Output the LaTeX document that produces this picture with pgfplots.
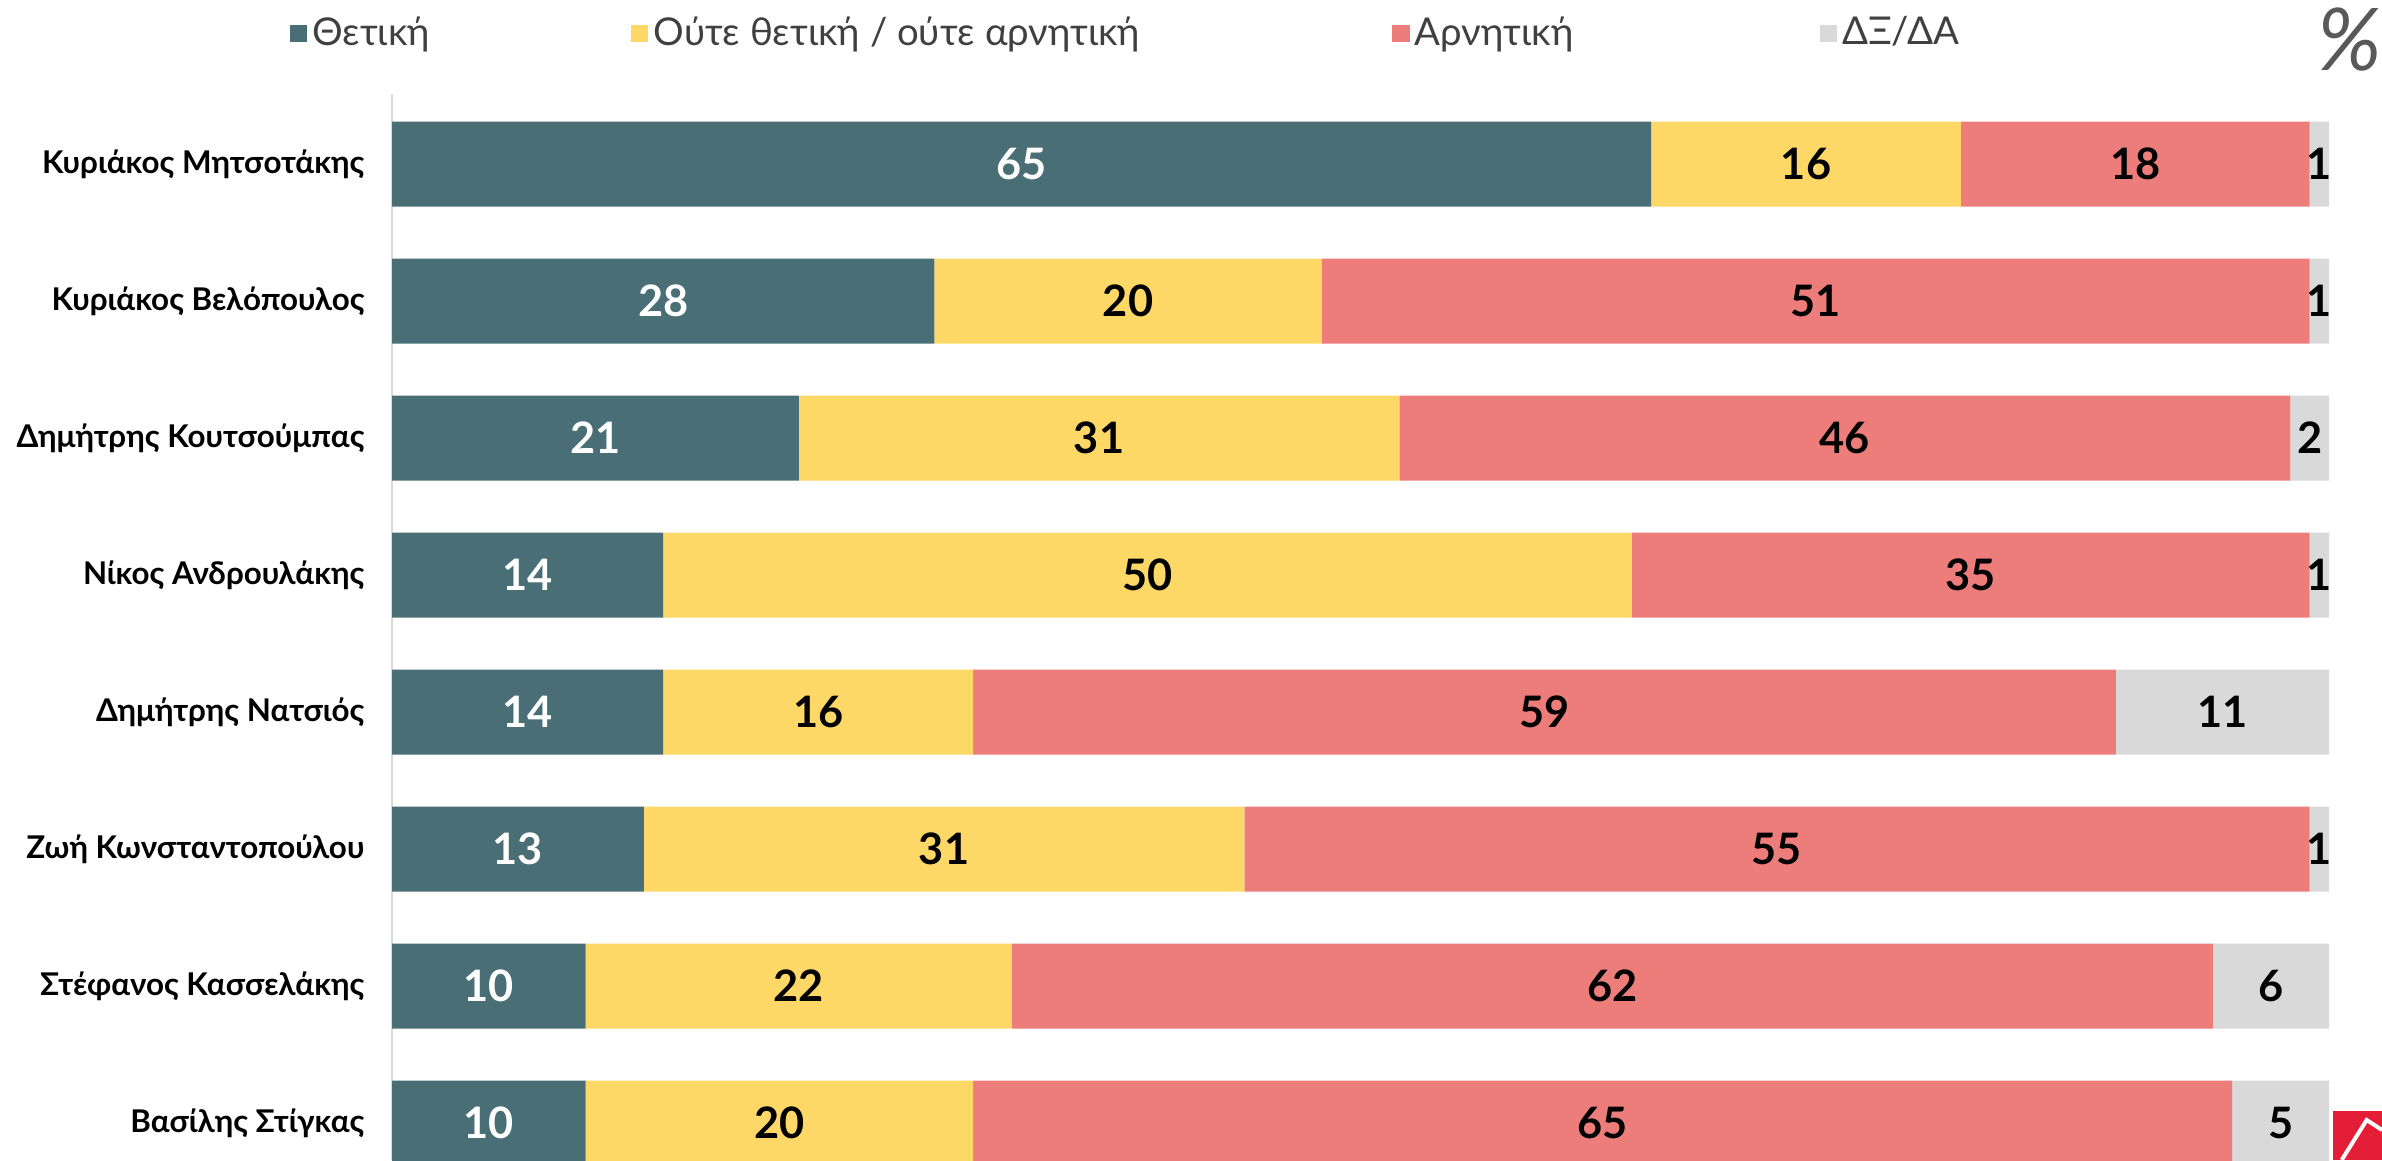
\documentclass[border=0pt]{standalone}
\usepackage{fontspec}
\setmainfont{Lato}
\usepackage{pgfplots}
\usepackage{pgfplotstable}
\pgfplotsset{compat=1.18}
\definecolor{cPos}{HTML}{4A6E75}
\definecolor{cNeu}{HTML}{FED866}
\definecolor{cNeg}{HTML}{ED7D7B}
\definecolor{cDk}{HTML}{D9D9D9}
\definecolor{cTxt}{HTML}{404040}
\definecolor{cPct}{HTML}{595959}
\definecolor{cLogo}{HTML}{E41E36}
\pgfplotstableread{
row pos neu neg dk
1 65 16 18 1
2 28 20 51 1
3 21 31 46 2
4 14 50 35 1
5 14 16 59 11
6 13 31 55 1
7 10 22 62 6
8 10 20 65 5
}\data
\begin{document}
\begin{tikzpicture}
\useasboundingbox (0,0) rectangle (714.6pt,348pt);
\clip (0,0) rectangle (714.6pt,348pt);
\begin{axis}[
  at={(117.6pt,0pt)}, anchor=south west,
  scale only axis, width=581.1pt, height=319.8pt,
  xbar stacked, bar width=25.5pt,
  xmin=0, xmax=100, ymin=0.489, ymax=8.27, y dir=reverse,
  axis x line=none, axis y line*=left,
  y axis line style={draw=cDk, line width=0.6pt},
  ytick={1,...,8},
  yticklabels={Κυριάκος Μητσοτάκης, Κυριάκος Βελόπουλος, Δημήτρης Κουτσούμπας, Νίκος Ανδρουλάκης, Δημήτρης Νατσιός, Ζωή Κωνσταντοπούλου, Στέφανος Κασσελάκης, Βασίλης Στίγκας},
  major tick length=0pt,
  yticklabel style={font=\fontsize{9.4}{11}\selectfont\bfseries, anchor=east, inner sep=0pt, xshift=-8.1pt},
  /pgf/number format/assume math mode=true,
  nodes near coords,
  every node near coord/.append style={font=\fontsize{13}{15}\selectfont\bfseries, anchor=center},
  legend columns=4,
  legend style={draw=none, fill=none, at={(-0.0532,1.057)}, anchor=west, inner sep=0pt, column sep=0pt, font=\fontsize{11.5}{13}\selectfont\color{cTxt}, nodes={inner sep=0pt}},
  legend cell align=left,
]
\addplot[fill=cPos, draw=none, every node near coord/.append style={text=white},
  legend image code/.code={\fill[cPos] (0pt,-2.6pt) rectangle (5.2pt,2.6pt);}]
  table[x=pos, y=row] {\data};
\addlegendentry{\makebox[97.2pt][l]{\hspace{1.6pt}Θετική}}
\addplot[fill=cNeu, draw=none, every node near coord/.append style={text=black},
  legend image code/.code={\fill[cNeu] (0pt,-2.6pt) rectangle (5.2pt,2.6pt);}]
  table[x=neu, y=row] {\data};
\addlegendentry{\makebox[223.2pt][l]{\hspace{1.6pt}Ούτε θετική / ούτε αρνητική}}
\addplot[fill=cNeg, draw=none, every node near coord/.append style={text=black},
  legend image code/.code={\fill[cNeg] (0pt,-2.6pt) rectangle (5.2pt,2.6pt);}]
  table[x=neg, y=row] {\data};
\addlegendentry{\makebox[123pt][l]{\hspace{1.6pt}Αρνητική}}
\addplot[fill=cDk, draw=none, every node near coord/.append style={text=black},
  legend image code/.code={\fill[cDk] (0pt,-2.6pt) rectangle (5.2pt,2.6pt);}]
  table[x=dk, y=row] {\data};
\addlegendentry{\hspace{1.6pt}ΔΞ/ΔΑ}
\end{axis}
\node[text=cPct, font=\fontsize{26}{28}\selectfont\itshape, inner sep=0pt] at (705pt,336pt) {\%};
\fill[cLogo] (699.9pt,0pt) rectangle (714.6pt,14.7pt);
\draw[white, line width=1.2pt] (702.5pt,0pt) -- (710pt,12pt) -- (714.6pt,9pt);
\end{tikzpicture}
\end{document}
